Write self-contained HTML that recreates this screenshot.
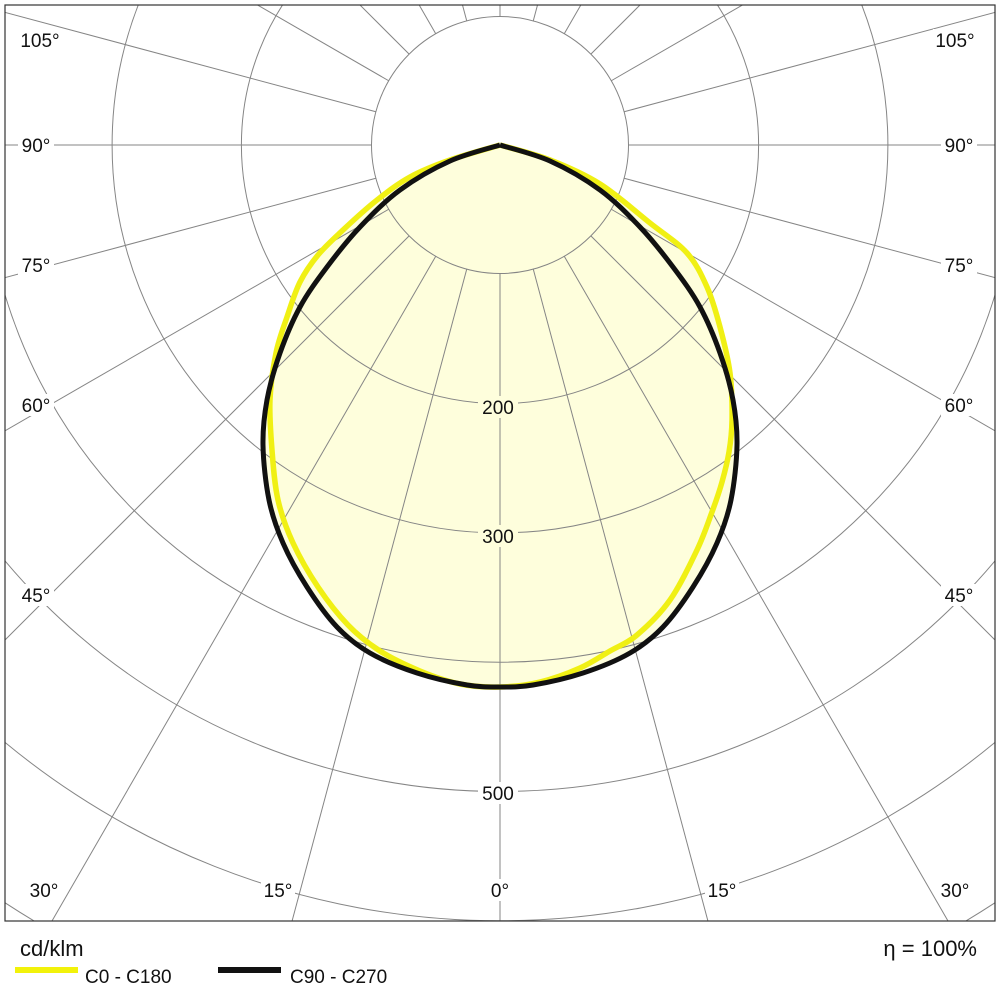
<!DOCTYPE html>
<html><head><meta charset="utf-8"><style>
html,body{margin:0;padding:0;background:#fff;width:1000px;height:1000px;overflow:hidden}
svg{display:block}
text{font-family:"Liberation Sans",Arial,sans-serif;fill:#111}
</style></head><body>
<svg id="s" width="1000" height="1000" viewBox="0 0 1000 1000" xmlns="http://www.w3.org/2000/svg">
<defs><clipPath id="c"><rect x="5" y="5" width="990" height="916"/></clipPath></defs>
<g id="fill" clip-path="url(#c)"></g>
<g id="grid" clip-path="url(#c)" stroke="#858585" stroke-width="1" fill="none"></g>
<g id="curves" clip-path="url(#c)" fill="none" stroke-linejoin="round"></g>
<rect x="5" y="5" width="990" height="916" fill="none" stroke="#333" stroke-width="1.2"/>
<g id="labels" font-size="19" text-anchor="middle"></g>
<text x="20" y="956" font-size="22">cd/klm</text>
<text x="977" y="956" font-size="22" text-anchor="end">η = 100%</text>
<rect x="15" y="967" width="63" height="6" fill="#f2f20a"/>
<text x="85" y="983" font-size="19">C0 - C180</text>
<rect x="218" y="967" width="63" height="6" fill="#111"/>
<text x="290" y="983" font-size="19">C90 - C270</text>
</svg>
<script>
var NS="http://www.w3.org/2000/svg",cx=500,cy=145,U=129.3;
function el(p,t,a){var e=document.createElementNS(NS,t);for(var k in a)e.setAttribute(k,a[k]);p.appendChild(e);return e;}
var grid=document.getElementById('grid');
for(var k=1;k<=8;k++)el(grid,'circle',{cx:cx,cy:cy,r:(k==1?128.5:k*U)});
for(var a=0;a<360;a+=15){var t=a*Math.PI/180,s=Math.sin(t),c=Math.cos(t);
 el(grid,'line',{x1:cx+128.5*s,y1:cy+128.5*c,x2:cx+1500*s,y2:cy+1500*c});}
function cr(p){var d="M"+p[0][0].toFixed(1)+","+p[0][1].toFixed(1);
 for(var i=0;i<p.length-1;i++){var p0=p[Math.max(0,i-1)],p1=p[i],p2=p[i+1],p3=p[Math.min(p.length-1,i+2)];
 d+="C"+(p1[0]+(p2[0]-p0[0])/6).toFixed(1)+","+(p1[1]+(p2[1]-p0[1])/6).toFixed(1)+" "+(p2[0]-(p3[0]-p1[0])/6).toFixed(1)+","+(p2[1]-(p3[1]-p1[1])/6).toFixed(1)+" "+p2[0].toFixed(1)+","+p2[1].toFixed(1);}
 return d;}
var BR=[[500,145],[550,161],[600,190],[640,227],[673,267],[700,307],[720,353],[733,400],[737,445],[731,500],[717,543],[693,587],[663,627],[630,653],[583,673],[533,685],[500,687]];
var B=[];for(var i=0;i<BR.length;i++)B.push(BR[i]);for(var i=BR.length-2;i>=0;i--)B.push([1000-BR[i][0],BR[i][1]]);
var YRt=[[500,145],[550,160],[600,184],[650,223],[687,253],[707,287],[720,327],[730,373],[732,420],[729,452],[722,482],[712,512],[697,550],[670,600],[637,635],[610,651],[580,668],[540,682],[500,687]];
var YLt=[[460,684],[420,671],[380,651],[348,625],[318,587],[293,543],[278,500],[272,450],[270,400],[276,353],[287,317],[300,282],[318,255],[343,230],[377,200],[410,177],[450,160],[500,145]];
var Y=YRt.concat(YLt);
var bp=cr(B),yp=cr(Y);
var f=document.getElementById('fill');
el(f,'path',{d:yp+"Z",fill:"#fefedc"});el(f,'path',{d:bp+"Z",fill:"#fefedc"});
var cv=document.getElementById('curves');
el(cv,'path',{d:yp,stroke:"#f0f014","stroke-width":5.5});
el(cv,'path',{d:bp,stroke:"#111","stroke-width":5});
var L=document.getElementById('labels');
function lab(x,y,s,bg,w){el(L,'rect',{x:x-w/2,y:y-11,width:w,height:22,fill:bg});var t=el(L,'text',{x:x,y:y+7});t.textContent=s;}
lab(40,40,"105°","#fff",44);lab(955,40,"105°","#fff",44);
[[145,"90°"],[265,"75°"],[405,"60°"],[595,"45°"]].forEach(function(q){lab(36,q[0],q[1],"#fff",36);lab(959,q[0],q[1],"#fff",36);});
lab(44,890,"30°","#fff",36);lab(955,890,"30°","#fff",36);
lab(278,890,"15°","#fff",34);lab(722,890,"15°","#fff",34);lab(500,890,"0°","#fff",24);
lab(498,407,"200","#fefedc",40);lab(498,536,"300","#fefedc",40);lab(498,793,"500","#fff",40);
</script>
</body></html>
